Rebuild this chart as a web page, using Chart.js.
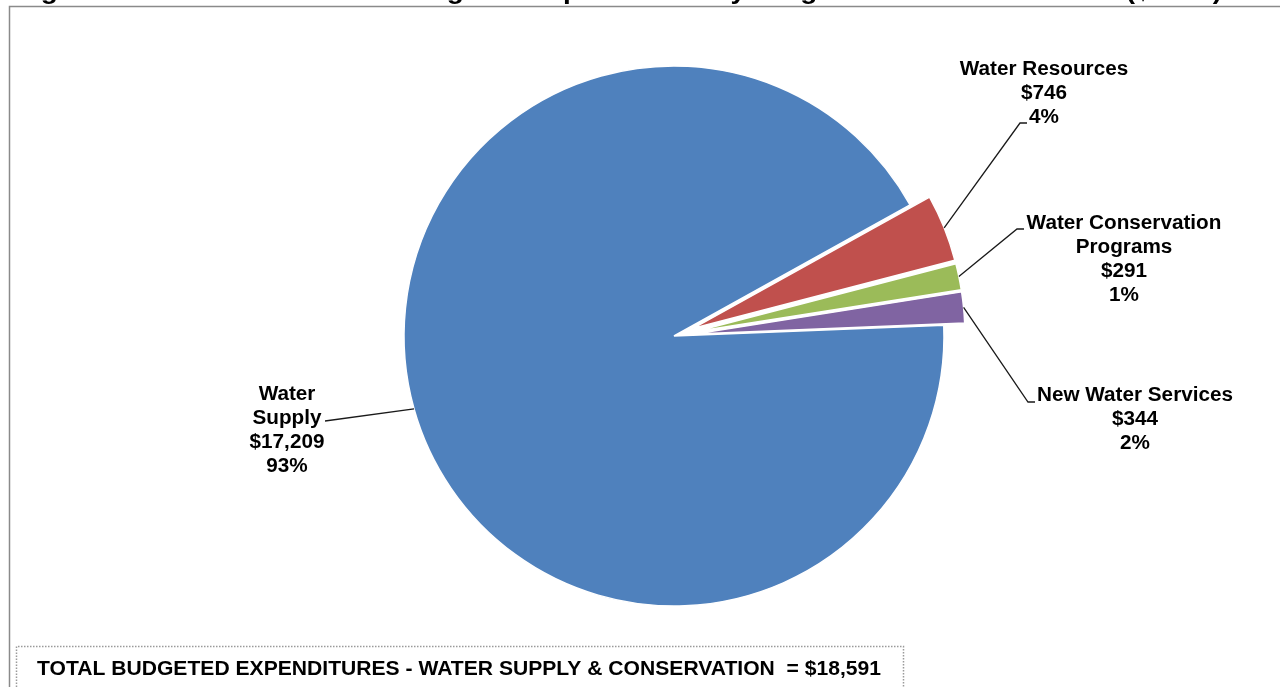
<!DOCTYPE html>
<html>
<head>
<meta charset="utf-8">
<script src="https://cdn.jsdelivr.net/npm/chart.js@4/dist/chart.umd.min.js"></script>
<style>
  html, body { margin: 0; padding: 0; background: #fff; }
  #wrap { width: 1280px; height: 687px; position: relative; }
</style>
</head>
<body>
<div id="wrap"><canvas id="pieChart" width="1280" height="687"></canvas></div>
<script>
// Program areas, budgeted expenditures ($000s)
const programs = ["Water Supply", "Water Resources", "Water Conservation Programs", "New Water Services"];
const expenditures = [17209, 746, 291, 344];
const percents = [93, 4, 1, 2];
const sliceColors = ["#4F81BD", "#C0504D", "#9BBB59", "#8064A2"];
const labelLines = [
  ["Water", "Supply"],
  ["Water Resources"],
  ["Water Conservation", "Programs"],
  ["New Water Services"],
];
const totalText = "TOTAL BUDGETED EXPENDITURES - WATER SUPPLY & CONSERVATION  = $18,591";
const titleText = "Figure 4: Water Sector Total Budgeted Expenditures by Program Area \u2013 Fiscal 2013 ($000s)";

// how far each slice is pulled out of the pie
const explode = [0, 21, 21, 21];

// label placement: text centre, first baseline, leader line path
const labelPos = [
  { x: 287, y: 400, path: [[325, 421]] },
  { x: 1044, y: 74.5, path: [[1020, 123], [1027, 123]] },
  { x: 1124, y: 228.5, path: [[1017, 229], [1024, 229]] },
  { x: 1135, y: 401, path: [[1028, 402], [1035, 402]] },
];

const LABEL_FONT = "bold 20px 'Liberation Sans', Arial, sans-serif";

function fitText(ctx, text, x, y, width) {
  const w = ctx.measureText(text).width;
  ctx.save();
  ctx.translate(x, y);
  ctx.scale(width / w, 1);
  ctx.fillText(text, 0, 0);
  ctx.restore();
}

function stretchText(ctx, text, cx, y, sx) {
  ctx.save();
  ctx.translate(cx, y);
  ctx.scale(sx, 1);
  ctx.textAlign = "center";
  ctx.fillText(text, 0, 0);
  ctx.restore();
}

const explodePlugin = {
  id: "explodeSlices",
  afterDatasetsUpdate(chart) {
    const meta = chart.getDatasetMeta(0);
    meta.data.forEach((arc, i) => {
      const d = explode[i];
      if (!d) return;
      const mid = (arc.startAngle + arc.endAngle) / 2;
      arc.x += Math.cos(mid) * d;
      arc.y += Math.sin(mid) * d;
    });
  },
};

const framePlugin = {
  id: "frame",
  beforeDraw(chart) {
    const ctx = chart.ctx;
    ctx.save();
    ctx.fillStyle = "#fff";
    ctx.fillRect(0, 0, chart.width, chart.height);

    // title sits above the page edge, only the descenders show
    ctx.fillStyle = "#000";
    ctx.font = "bold 26px 'Liberation Sans', Arial, sans-serif";
    ctx.textBaseline = "alphabetic";
    fitText(ctx, titleText, 16, -1.5, 1206);

    // outer border
    ctx.strokeStyle = "#8a8a8a";
    ctx.lineWidth = 1.5;
    ctx.beginPath();
    ctx.moveTo(9.5, chart.height);
    ctx.lineTo(9.5, 6.5);
    ctx.lineTo(chart.width, 6.5);
    ctx.stroke();

    // dotted total box
    ctx.strokeStyle = "#9a9a9a";
    ctx.lineWidth = 1.5;
    ctx.setLineDash([1.5, 1.5]);
    ctx.beginPath();
    ctx.moveTo(16.5, chart.height);
    ctx.lineTo(16.5, 646.5);
    ctx.lineTo(903.5, 646.5);
    ctx.lineTo(903.5, chart.height);
    ctx.stroke();
    ctx.setLineDash([]);

    ctx.fillStyle = "#000";
    ctx.font = "bold 20px 'Liberation Sans', Arial, sans-serif";
    fitText(ctx, totalText, 37, 675, 844);
    ctx.restore();
  },
};

const labelPlugin = {
  id: "sliceLabels",
  afterDraw(chart) {
    const ctx = chart.ctx;
    const meta = chart.getDatasetMeta(0);
    ctx.save();
    meta.data.forEach((arc, i) => {
      const pos = labelPos[i];
      const mid = (arc.startAngle + arc.endAngle) / 2;
      const sx = arc.x + Math.cos(mid) * arc.outerRadius;
      const sy = arc.y + Math.sin(mid) * arc.outerRadius;

      ctx.strokeStyle = "#1a1a1a";
      ctx.lineWidth = 1.3;
      ctx.beginPath();
      ctx.moveTo(sx, sy);
      pos.path.forEach((p) => ctx.lineTo(p[0], p[1]));
      ctx.stroke();

      const lines = labelLines[i].concat([
        "$" + expenditures[i].toLocaleString("en-US"),
        percents[i] + "%",
      ]);
      ctx.fillStyle = "#000";
      ctx.font = LABEL_FONT;
      ctx.textBaseline = "alphabetic";
      lines.forEach((t, k) => stretchText(ctx, t, pos.x, pos.y + k * 24, 1.035));
    });
    ctx.restore();
  },
};

const ctx = document.getElementById("pieChart").getContext("2d");
new Chart(ctx, {
  type: "pie",
  data: {
    labels: programs,
    datasets: [
      {
        data: expenditures,
        backgroundColor: sliceColors,
        borderColor: "#fff",
        borderWidth: 1.5,
      },
    ],
  },
  options: {
    responsive: false,
    animation: false,
    radius: 270,
    rotation: 87.7,
    layout: { padding: { left: 68, right: 0, top: 0, bottom: 15 } },
    plugins: {
      legend: { display: false },
      tooltip: { enabled: false },
    },
  },
  plugins: [explodePlugin, framePlugin, labelPlugin],
});
</script>
</body>
</html>
